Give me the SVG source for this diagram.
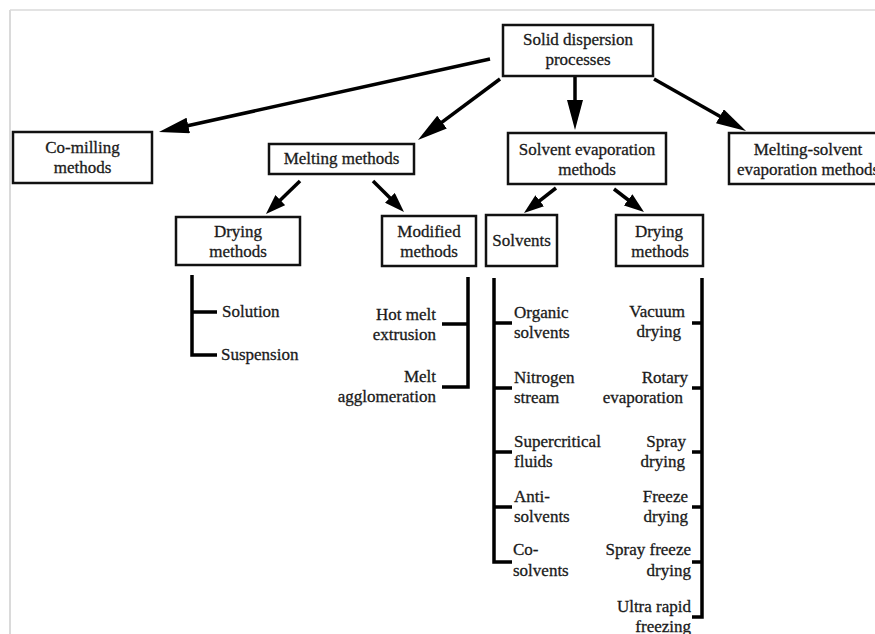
<svg xmlns="http://www.w3.org/2000/svg" width="875" height="634" viewBox="0 0 875 634">
<style>
  text { font-family: "Liberation Serif", "Times New Roman", serif; font-size: 17px; fill: #1a1a1a; stroke: #1a1a1a; stroke-width: 0.3; }
  .c { text-anchor: middle; }
  .e { text-anchor: end; }
  .box { fill: #fff; stroke: #111; stroke-width: 2.5; }
  .arr { stroke: #000; stroke-width: 3.5; fill: none; }
  .brk { stroke: #000; stroke-width: 3.5; fill: none; }
  .frame { stroke: #dadada; fill: none; }
</style>
<defs>
  <marker id="big" markerUnits="userSpaceOnUse" markerWidth="30" markerHeight="16" refX="10" refY="8" orient="auto">
    <path d="M0,0 L30,8 L0,16 z" fill="#000"/>
  </marker>
  <marker id="small" markerUnits="userSpaceOnUse" markerWidth="20" markerHeight="14" refX="6" refY="7" orient="auto">
    <path d="M0,0 L20,7 L0,14 z" fill="#000"/>
  </marker>
</defs>
<rect width="875" height="634" fill="#fff"/>
<g id="frame">
  <line class="frame" x1="10" y1="10" x2="875" y2="10" stroke-width="1.5"/>
  <line class="frame" x1="10" y1="10" x2="10" y2="634" stroke-width="2"/>
</g>

<g id="connectors">
  <line class="arr" x1="490" y1="59" x2="178.5" y2="127.7" marker-end="url(#big)"/>
  <line class="arr" x1="500" y1="79" x2="434" y2="128.1" marker-end="url(#big)"/>
  <line class="arr" x1="575" y1="77" x2="575" y2="110" marker-end="url(#big)"/>
  <line class="arr" x1="654" y1="79" x2="728.6" y2="121.2" marker-end="url(#big)"/>
  <line class="arr" x1="300" y1="181" x2="276" y2="204.3" marker-end="url(#small)"/>
  <line class="arr" x1="373" y1="181" x2="394.1" y2="202.1" marker-end="url(#small)"/>
  <line class="arr" x1="556" y1="188" x2="535" y2="204.4" marker-end="url(#small)"/>
  <line class="arr" x1="614" y1="189" x2="632.9" y2="203.5" marker-end="url(#small)"/>
  <path class="brk" d="M192,275 V355 H217 M192,312 H217"/>
  <path class="brk" d="M468,277 V387 H442 M468,324 H442"/>
  <path class="brk" d="M494,278 V562 H512 M494,323 H512 M494,388 H512 M494,452 H512 M494,507 H512"/>
  <path class="brk" d="M702,278 V617 H692 M702,323 H692 M702,388 H692 M702,452 H692 M702,507 H692 M702,562 H692"/>
</g>

<g id="root">
  <rect class="box" x="503" y="25" width="150" height="51"/>
  <text class="c" x="578" y="45">Solid dispersion</text>
  <text class="c" x="578" y="65">processes</text>
</g>
<g id="co-milling">
  <rect class="box" x="13" y="132" width="139" height="51"/>
  <text class="c" x="82.5" y="153">Co-milling</text>
  <text class="c" x="82.5" y="173">methods</text>
</g>
<g id="melting">
  <rect class="box" x="269" y="144" width="145" height="30"/>
  <text class="c" x="341.5" y="164">Melting methods</text>
</g>
<g id="solvent-evaporation">
  <rect class="box" x="508" y="133" width="158" height="51"/>
  <text class="c" x="587" y="155">Solvent evaporation</text>
  <text class="c" x="587" y="175">methods</text>
</g>
<g id="melting-solvent">
  <rect class="box" x="729" y="133" width="160" height="51"/>
  <text class="c" x="808" y="155">Melting-solvent</text>
  <text class="c" x="808" y="175">evaporation methods</text>
</g>
<g id="drying-methods-1">
  <rect class="box" x="176" y="217" width="124" height="48"/>
  <text class="c" x="238" y="237">Drying</text>
  <text class="c" x="238" y="257">methods</text>
</g>
<g id="modified-methods">
  <rect class="box" x="382" y="216" width="94" height="50"/>
  <text class="c" x="429" y="237">Modified</text>
  <text class="c" x="429" y="257">methods</text>
</g>
<g id="solvents">
  <rect class="box" x="486" y="215" width="71" height="51"/>
  <text class="c" x="521.5" y="246">Solvents</text>
</g>
<g id="drying-methods-2">
  <rect class="box" x="616" y="215" width="87" height="51"/>
  <text class="c" x="659" y="237">Drying</text>
  <text class="c" x="660" y="257">methods</text>
</g>

<g id="drying-items">
  <text x="222" y="317">Solution</text>
  <text x="221" y="360">Suspension</text>
</g>
<g id="modified-items">
  <text class="e" x="436" y="320">Hot melt</text>
  <text class="e" x="436" y="340">extrusion</text>
  <text class="e" x="436" y="382">Melt</text>
  <text class="e" x="436" y="402">agglomeration</text>
</g>
<g id="solvent-items">
  <text x="514" y="318">Organic</text>
  <text x="514" y="338">solvents</text>
  <text x="514" y="383">Nitrogen</text>
  <text x="514" y="403">stream</text>
  <text x="514" y="447">Supercritical</text>
  <text x="514" y="467">fluids</text>
  <text x="514" y="502">Anti-</text>
  <text x="514" y="522">solvents</text>
  <text x="513" y="555">Co-</text>
  <text x="513" y="576">solvents</text>
</g>
<g id="drying2-items">
  <text class="e" x="685" y="317">Vacuum</text>
  <text class="e" x="681" y="337">drying</text>
  <text class="e" x="688" y="383">Rotary</text>
  <text class="e" x="683" y="403">evaporation</text>
  <text class="e" x="686" y="447">Spray</text>
  <text class="e" x="685" y="467">drying</text>
  <text class="e" x="688" y="502">Freeze</text>
  <text class="e" x="688" y="522">drying</text>
  <text class="e" x="691" y="555">Spray freeze</text>
  <text class="e" x="691" y="576">drying</text>
  <text class="e" x="691" y="612">Ultra rapid</text>
  <text class="e" x="691" y="632">freezing</text>
</g>
</svg>
